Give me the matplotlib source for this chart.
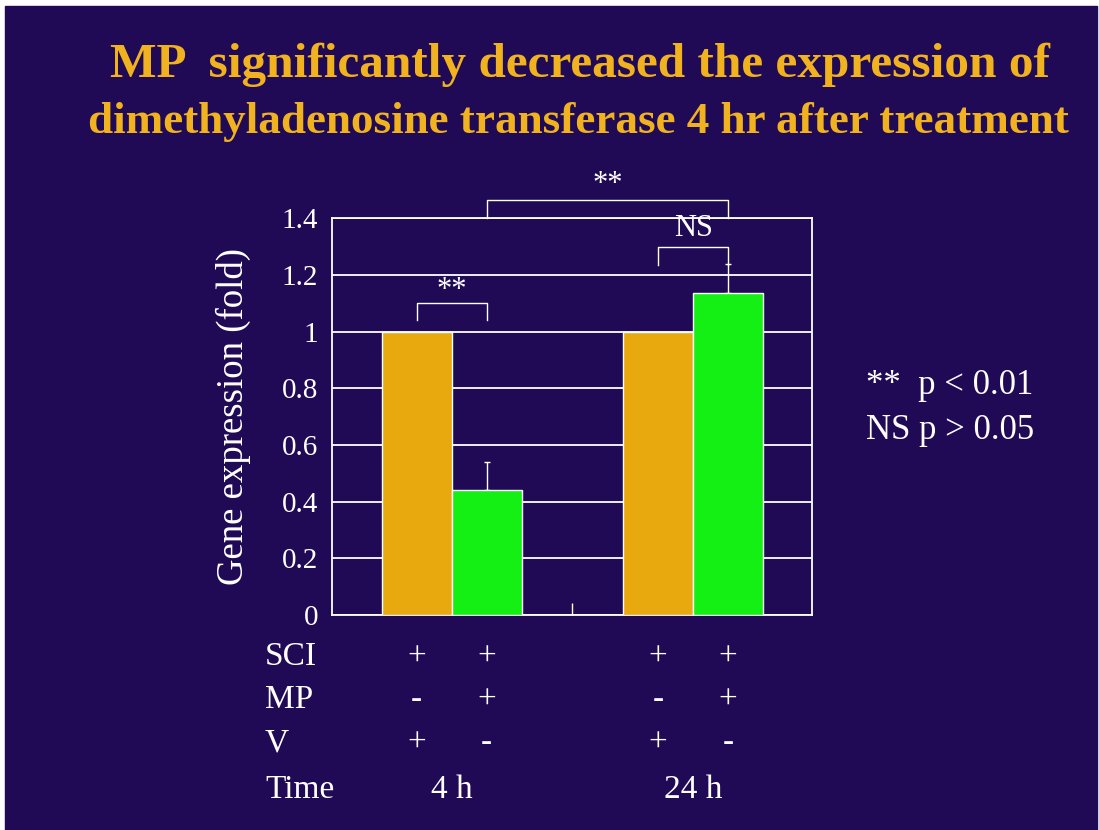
import matplotlib.pyplot as plt
from matplotlib.patches import Rectangle

# values
conditions = ['SCI+V 4h', 'SCI+MP 4h', 'SCI+V 24h', 'SCI+MP 24h']
expression = [1.0, 0.44, 1.0, 1.135]
err_up = [0.0, 0.10, 0.0, 0.105]
bar_colors = ['#E8A90E', '#14F014', '#E8A90E', '#14F014']

sci_row = ['+', '+', '+', '+']
mp_row = ['-', '+', '-', '+']
v_row = ['+', '-', '+', '-']
time_labels = ['4 h', '24 h']
yticks = [0, 0.2, 0.4, 0.6, 0.8, 1, 1.2, 1.4]
ytick_labels = ['0', '0.2', '0.4', '0.6', '0.8', '1', '1.2', '1.4']

BG = '#200A55'
TITLE_C = '#F0B21E'
SERIF = 'Liberation Serif'


def main():
    fig = plt.figure(figsize=(10.99, 8.30), dpi=100)
    fig.patch.set_facecolor('white')
    # navy slide background with thin white margin top/left like the scan
    fig.add_artist(Rectangle((5 / 1099, 0), 1092 / 1099, 824 / 830,
                             transform=fig.transFigure, color=BG, zorder=0))

    ax = fig.add_axes([0.302, 0.259, 0.437, 0.478])
    ax.set_facecolor(BG)

    xpos = [0, 1, 3.45, 4.45]
    ax.bar(xpos, expression, width=1.0, color=bar_colors,
           edgecolor='white', linewidth=1, zorder=3)
    ax.errorbar([xpos[1], xpos[3]], [expression[1], expression[3]],
                yerr=[[0, 0], [err_up[1], err_up[3]]], fmt='none',
                ecolor='white', elinewidth=1, capsize=2, zorder=2)

    ax.set_xlim(-1.21, 5.65)
    ax.set_ylim(0, 1.4)
    ax.set_yticks(yticks)
    ax.set_yticklabels(ytick_labels, fontsize=21, color='white', family=SERIF)
    ax.tick_params(axis='y', length=0, pad=10)
    ax.set_xticks([(xpos[1] + xpos[2]) / 2])
    ax.set_xticklabels([''])
    ax.tick_params(axis='x', direction='in', length=9, color='white', width=1)
    ax.grid(axis='y', color='white', linewidth=1.3, zorder=0)
    for s in ax.spines.values():
        s.set_color('white')
        s.set_linewidth(1.3)

    ax.set_ylabel('Gene expression (fold)', fontsize=26.5, color='white',
                  family=SERIF, labelpad=22)

    # significance brackets
    def bracket(x1, x2, y, h, label, ty):
        ax.plot([x1, x1, x2, x2], [y - h, y, y, y - h], color='white',
                lw=1, clip_on=False, zorder=4)
        ax.text((x1 + x2) / 2, ty, label, ha='center', va='center',
                color='white', fontsize=22, family=SERIF, clip_on=False)

    bracket(xpos[0], xpos[1], 1.10, 0.06, '**', 1.145)
    bracket(xpos[2], xpos[3], 1.30, 0.065, 'NS', 1.365)
    bracket(xpos[1], xpos[3], 1.463, 0.063, '**', 1.52)

    # p-value key
    fig.text(866 / 1099, 1 - 385 / 830, '**  p < 0.01', color='white',
             fontsize=25, family=SERIF, va='center')
    fig.text(866 / 1099, 1 - 430 / 830, 'NS p > 0.05', color='white',
             fontsize=25, family=SERIF, va='center')

    # treatment table under the bars
    rows = [('SCI', sci_row, 657), ('MP', mp_row, 700), ('V', v_row, 743)]
    for name, vals, py in rows:
        yf = 1 - py / 830
        fig.text(265 / 1099, yf, name, color='white', fontsize=24,
                 family=SERIF, va='center')
        for x, v in zip(xpos, vals):
            xf = fig.transFigure.inverted().transform(ax.transData.transform((x, 0)))[0]
            fig.text(xf, yf, v, color='white', fontsize=24, family=SERIF,
                     ha='center', va='center')
    fig.text(265 / 1099, 1 - 790 / 830, 'Time', color='white', fontsize=24,
             family=SERIF, va='center')
    for i, lab in enumerate(time_labels):
        xc = (xpos[2 * i] + xpos[2 * i + 1]) / 2
        xf = fig.transFigure.inverted().transform(ax.transData.transform((xc, 0)))[0]
        fig.text(xf, 1 - 790 / 830, lab, color='white', fontsize=24,
                 family=SERIF, ha='center', va='center')

    # title
    fig.text(580 / 1099, 1 - 65 / 830, 'MP  significantly decreased the expression of',
             color=TITLE_C, fontsize=35.5, fontweight='bold', family=SERIF,
             ha='center', va='center')
    fig.text(578 / 1099, 1 - 122 / 830,
             'dimethyladenosine transferase 4 hr after treatment',
             color=TITLE_C, fontsize=32.5, fontweight='bold', family=SERIF,
             ha='center', va='center')

    fig.savefig('out.png', dpi=100, facecolor=fig.get_facecolor())


if __name__ == '__main__':
    main()
